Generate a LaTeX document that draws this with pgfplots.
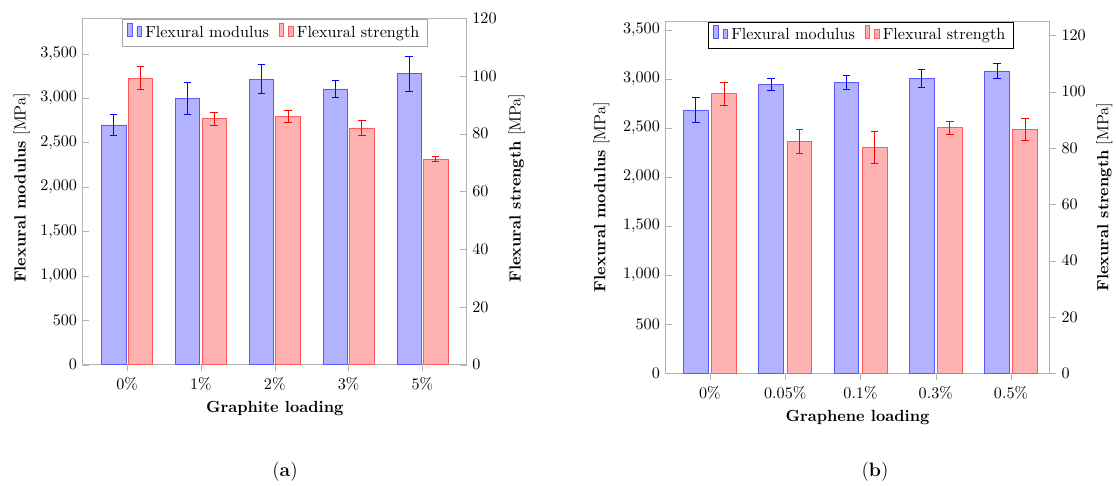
\documentclass[border=0pt]{standalone}
\usepackage{pgfplots}
\pgfplotsset{compat=1.18}
\begin{document}
\begin{tikzpicture}
\pgfplotsset{
  base/.style={
    scale only axis,
    ymin=0,
    xtick={0,1,2,3,4},
    major tick length=4pt,
    axis line style={gray!60},
    tick style={gray!60},
  },
  xoutside/.style={
    xtick pos=bottom,
    every major x tick/.append style={yshift=-4pt},
    xticklabel style={yshift=-4.5pt},
  },
  mylegend/.style={at={(0.5,1)}, anchor=north, legend columns=-1,
    /tikz/every even column/.append style={column sep=4pt}},
  bluebar/.style={ybar, ybar legend, bar width=0.33, bar shift=0, draw=blue!65, fill=blue!30,
    error bars/.cd, y dir=both, y explicit,
    error bar style={draw=blue, line width=0.5pt},
    error mark options={rotate=90, draw=blue, mark size=2.3pt, line width=0.5pt}},
  redbar/.style={ybar, ybar legend, bar width=0.33, bar shift=0, draw=red!65, fill=red!30,
    error bars/.cd, y dir=both, y explicit,
    error bar style={draw=red, line width=0.5pt},
    error mark options={rotate=90, draw=red, mark size=2.3pt, line width=0.5pt}},
}
\path[use as bounding box] (0,0) rectangle (691.9pt,-301.3pt);

% ---------------- (a) ----------------
\begin{axis}[base, xoutside,
  at={(51.27pt,-226.11pt)}, anchor=south west,
  width=238.1pt, height=214.8pt,
  xmin=-0.6, xmax=4.6, ymax=3900,
  ytick={0,500,...,3500}, ytick pos=left, tick align=inside,
  xticklabels={0\%,1\%,2\%,3\%,5\%},
  xlabel={\textbf{Graphite loading}},
  xlabel style={at={(axis description cs:0.5,-0.125)}, anchor=center},
  ylabel={\textbf{Flexural modulus} [MPa]},
  ylabel style={at={(axis description cs:-0.159,0.51)}, anchor=center},
]
\addplot[bluebar]
  coordinates {(-0.18,2700) +- (0,120) (0.82,3000) +- (0,178) (1.82,3215) +- (0,160) (2.82,3105) +- (0,92) (3.82,3275) +- (0,200)};
\end{axis}
\begin{axis}[base,
  at={(51.27pt,-226.11pt)}, anchor=south west,
  width=238.1pt, height=214.8pt,
  xmin=-0.6, xmax=4.6, ymax=120,
  axis x line=none, axis y line*=right, tick align=inside,
  ytick={0,20,...,120},
  ylabel={\textbf{Flexural strength} [MPa]},
  ylabel style={at={(axis description cs:1.13,0.51)}, anchor=center},
  legend style={mylegend, draw=gray!70, yshift=-0.5pt},
]
\addlegendimage{bluebar}
\addlegendentry{Flexural modulus}
\addplot[redbar]
  coordinates {(0.18,99.2) +- (0,4) (1.18,85.2) +- (0,2.3) (2.18,86.0) +- (0,2.0) (3.18,82.0) +- (0,2.5) (4.18,71.3) +- (0,1.0)};
\addlegendentry{Flexural strength}
\end{axis}

% ---------------- (b) ----------------
\begin{axis}[base, xoutside,
  at={(412.61pt,-231.45pt)}, anchor=south west,
  width=238.0pt, height=218.4pt,
  xmin=-0.59, xmax=4.51, ymax=3592,
  ytick={0,500,...,3500}, ytick pos=left, tick align=inside,
  xticklabels={0\%,0.05\%,0.1\%,0.3\%,0.5\%},
  xlabel={\textbf{Graphene loading}},
  xlabel style={at={(axis description cs:0.5,-0.125)}, anchor=center},
  ylabel={\textbf{Flexural modulus} [MPa]},
  ylabel style={at={(axis description cs:-0.167,0.5)}, anchor=center},
]
\addplot[bluebar]
  coordinates {(-0.187,2685) +- (0,130) (0.813,2945) +- (0,63) (1.813,2965) +- (0,75) (2.813,3005) +- (0,90) (3.813,3080) +- (0,77)};
\end{axis}
\begin{axis}[base,
  at={(412.61pt,-231.45pt)}, anchor=south west,
  width=238.0pt, height=218.4pt,
  xmin=-0.59, xmax=4.51, ymax=125.1,
  axis x line=none, axis y line*=right, tick align=outside,
  ytick={0,20,...,120},
  ylabel={\textbf{Flexural strength} [MPa]},
  ylabel style={at={(axis description cs:1.143,0.5)}, anchor=center},
  legend style={mylegend, draw=black, xshift=2pt, yshift=-0.5pt},
]
\addlegendimage{bluebar}
\addlegendentry{Flexural modulus}
\addplot[redbar]
  coordinates {(0.187,99.3) +- (0,4) (1.187,82.4) +- (0,4.2) (2.187,80.2) +- (0,5.6) (3.187,87.2) +- (0,2.4) (4.187,86.6) +- (0,4)};
\addlegendentry{Flexural strength}
\end{axis}

\node[font=\large] at (176.7pt,-292.6pt) {(\textbf{a})};
\node[font=\large] at (542.5pt,-292.6pt) {(\textbf{b})};
\end{tikzpicture}
\end{document}
